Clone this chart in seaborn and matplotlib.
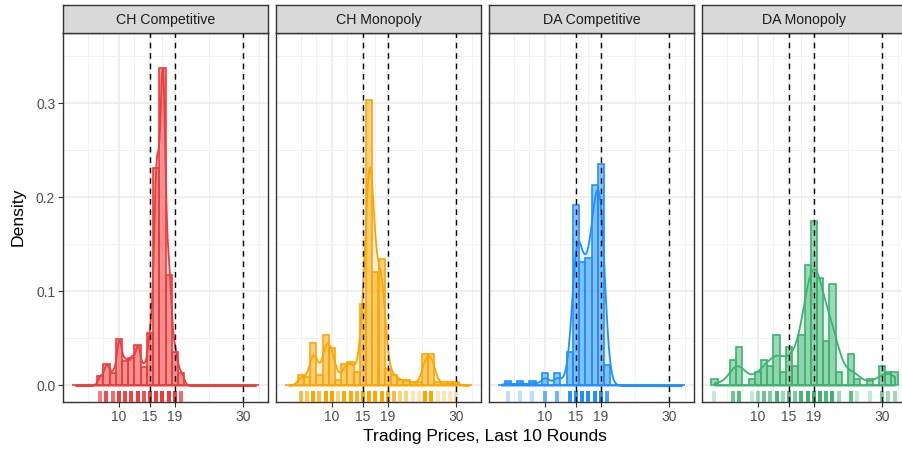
# plot.py
# Trading price distributions by market institution, last 10 rounds

import numpy as np
import pandas as pd
import seaborn as sns
import matplotlib.pyplot as plt

sns.set_style('white')
plt.rcParams['font.family'] = ['Liberation Sans', 'DejaVu Sans']

# Price levels and number of trades at each level, per market
markets = ['CH Competitive', 'CH Monopoly', 'DA Competitive', 'DA Monopoly']
colors = ['#EE3B3B', '#FFA500', '#1E90FF', '#3CB371']

ch_comp_prices = [7, 8, 9, 10, 11, 12, 13, 14, 15, 16, 17, 18, 19, 20]
ch_comp_counts = [3, 7, 4, 15, 8, 9, 13, 6, 17, 71, 104, 36, 11, 4]

ch_mono_prices = [5, 6, 7, 8, 9, 10, 11, 12, 13, 14, 15, 16, 17,
                  18, 19, 20, 21, 22, 23, 24, 25, 26, 27, 28, 29, 30]
ch_mono_counts = [4, 3, 16, 4, 19, 14, 2, 8, 9, 5, 31, 109, 43,
                  48, 6, 4, 2, 2, 1, 1, 12, 12, 1, 1, 1, 1]

da_comp_prices = [4, 6, 8, 10, 12, 14, 15, 16, 17, 18, 19, 20]
da_comp_counts = [1, 1, 1, 3, 3, 8, 44, 30, 31, 49, 54, 5]

da_mono_prices = [3, 6, 7, 9, 10, 11, 12, 13, 14, 15, 16, 17, 18,
                  19, 20, 21, 22, 23, 25, 26, 28, 30, 31, 32]
da_mono_counts = [1, 4, 6, 1, 2, 4, 3, 8, 2, 6, 3, 8, 19,
                  26, 17, 7, 16, 2, 5, 1, 1, 3, 2, 2]

# reference prices (dashed lines) and axis breaks
ref_prices = [15, 19, 30]
x_breaks = [10, 15, 19, 30]
y_breaks = [0.0, 0.1, 0.2, 0.3]

prices = [ch_comp_prices, ch_mono_prices, da_comp_prices, da_mono_prices]
counts = [ch_comp_counts, ch_mono_counts, da_comp_counts, da_mono_counts]

df = pd.concat([pd.DataFrame({'market': m, 'price': np.repeat(p, c).astype(float)})
                for m, p, c in zip(markets, prices, counts)], ignore_index=True)

lo, hi = df['price'].min(), df['price'].max()


def nrd0(x):
    # same rule of thumb as R's default bandwidth
    sd = np.std(x, ddof=1)
    iqr = np.subtract(*np.percentile(x, [75, 25]))
    return 0.9 * min(sd, iqr / 1.34) * len(x) ** -0.2


W, H = 902, 449
fig = plt.figure(figsize=(W / 100, H / 100), dpi=100)

panel_w, gap = 205, 8
left0, top, bottom = 63, 33, 402
strip_top = 5

for i, (m, col) in enumerate(zip(markets, colors)):
    x0 = left0 + i * (panel_w + gap)
    ax = fig.add_axes([x0 / W, (H - bottom) / H, panel_w / W, (bottom - top) / H])
    sax = fig.add_axes([x0 / W, (H - top) / H, panel_w / W, (top - strip_top) / H])

    sub = df.loc[df['market'] == m, 'price']

    sns.histplot(x=sub, ax=ax, stat='density', binwidth=1, binrange=(lo - 0.5, hi + 0.5),
                 color=col, alpha=0.5, edgecolor=col, linewidth=1.2, zorder=2)
    sns.kdeplot(x=sub, ax=ax, bw_method=nrd0(sub) / np.std(sub, ddof=1), cut=100,
                clip=(lo, hi), gridsize=600, fill=True, color=col, alpha=0.1,
                linewidth=1.3, zorder=3)
    sns.rugplot(x=sub, ax=ax, color=col, alpha=0.3, height=0.03, linewidth=2.8, zorder=4)
    for r in ref_prices:
        ax.axvline(r, color='black', linestyle=(0, (4, 3.5)), linewidth=1.0, zorder=5)

    ax.set_xlim(1, 34)
    ax.set_ylim(-0.018, 0.3745)
    ax.set_xticks(x_breaks)
    ax.set_xticklabels([str(b) for b in x_breaks])
    ax.set_xticks([5, 7.5, 12.5, 17, 24.5, 32.5], minor=True)
    ax.set_yticks(y_breaks)
    ax.set_yticklabels([f'{b:.1f}' for b in y_breaks])
    ax.set_yticks([0.05, 0.15, 0.25, 0.35], minor=True)
    ax.grid(which='major', color='#EBEBEB', linewidth=1.1)
    ax.grid(which='minor', color='#F2F2F2', linewidth=0.7)
    ax.set_axisbelow(True)
    ax.tick_params(which='minor', length=0)
    ax.tick_params(which='major', length=3.5, width=0.8, color='#333333',
                   labelcolor='#4D4D4D', labelsize=10, pad=2, bottom=True, left=(i == 0),
                   labelleft=(i == 0))
    ax.set_xlabel('')
    ax.set_ylabel('')
    for s in ax.spines.values():
        s.set_color('#333333')
        s.set_linewidth(1.0)
        s.set_visible(True)

    # facet strip
    sax.set_facecolor('#D9D9D9')
    sax.set_xticks([])
    sax.set_yticks([])
    for s in sax.spines.values():
        s.set_color('#333333')
        s.set_linewidth(1.0)
    sax.text(0.5, 0.48, m, ha='center', va='center', fontsize=10.2, color='#1A1A1A',
             transform=sax.transAxes)

fig.text((left0 + (4 * panel_w + 3 * gap) / 2) / W, 1 - 437 / H, 'Trading Prices, Last 10 Rounds',
         ha='center', va='center', fontsize=12.6, color='black')
fig.text(18 / W, 1 - 217 / H, 'Density', rotation=90, ha='center', va='center',
         fontsize=12.6, color='black')

fig.savefig('out.png', dpi=100, facecolor='white')
